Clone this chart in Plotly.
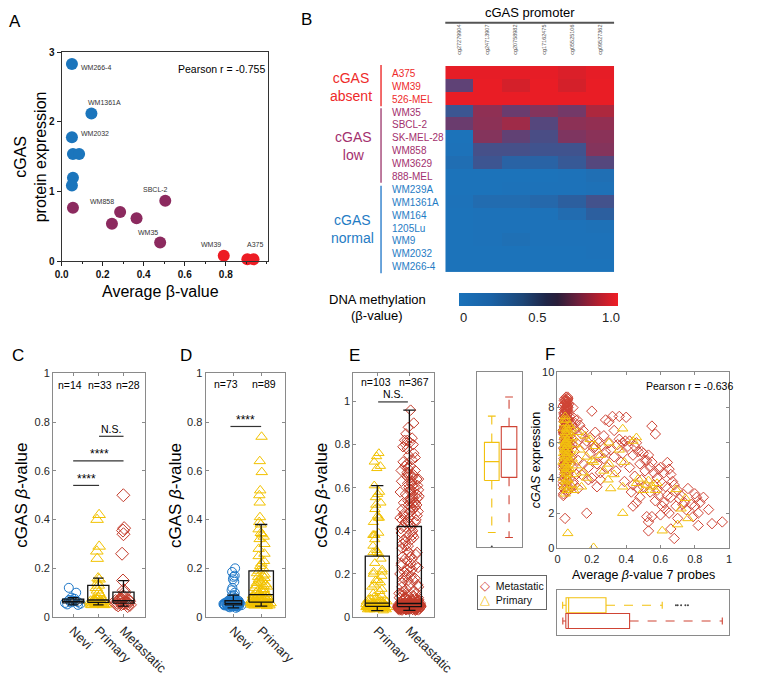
import numpy as np
import plotly.graph_objects as go

W, H = 757, 683
FONT = "Liberation Sans, Arial, sans-serif"

# ---------------- DATA ----------------
# Panel A: cell lines
a_label = ["WM266-4", "WM1361A", "WM2032", "", "", "", "", "", "SBCL-2", "WM858", "", "", "WM35", "WM39", "A375", ""]
a_group = ["normal", "normal", "normal", "normal", "normal", "normal", "normal",
           "low", "low", "low", "low", "low", "low", "absent", "absent", "absent"]
a_beta = [0.050, 0.145, 0.050, 0.055, 0.085, 0.055, 0.050,
          0.055, 0.505, 0.285, 0.245, 0.365, 0.480, 0.790, 0.905, 0.935]
a_cgas = [2.83, 2.12, 1.78, 1.54, 1.54, 1.20, 1.09,
          0.77, 0.87, 0.71, 0.54, 0.62, 0.27, 0.08, 0.03, 0.03]

# Panel B: heatmap
b_probes = ["cg27279904", "cg24713907", "cg20758982", "cg17162475", "cg05525106", "cg09527362"]
b_cells = ["A375", "WM39", "526-MEL", "WM35", "SBCL-2", "SK-MEL-28", "WM858", "WM3629", "888-MEL",
           "WM239A", "WM1361A", "WM164", "1205Lu", "WM9", "WM2032", "WM266-4"]
b_group = ["absent", "absent", "absent", "low", "low", "low", "low", "low", "low",
           "normal", "normal", "normal", "normal", "normal", "normal", "normal"]
b_beta = [
    [0.98, 0.98, 0.98, 0.98, 0.95, 0.98],
    [0.55, 0.99, 0.93, 0.99, 0.93, 0.99],
    [0.99, 0.99, 0.99, 0.99, 0.99, 0.99],
    [0.35, 0.73, 0.60, 0.69, 0.63, 0.82],
    [0.60, 0.72, 0.78, 0.50, 0.72, 0.74],
    [0.02, 0.69, 0.56, 0.45, 0.67, 0.71],
    [0.03, 0.42, 0.42, 0.38, 0.38, 0.69],
    [0.08, 0.36, 0.20, 0.20, 0.32, 0.50],
    [0.02, 0.02, 0.02, 0.02, 0.03, 0.07],
    [0.02, 0.02, 0.03, 0.03, 0.03, 0.04],
    [0.03, 0.10, 0.10, 0.15, 0.25, 0.40],
    [0.02, 0.03, 0.03, 0.03, 0.10, 0.25],
    [0.02, 0.03, 0.03, 0.03, 0.03, 0.04],
    [0.02, 0.03, 0.06, 0.03, 0.03, 0.03],
    [0.02, 0.02, 0.02, 0.02, 0.02, 0.03],
    [0.02, 0.02, 0.02, 0.02, 0.02, 0.02],
]

# Panel C
c_cats = ["Nevi", "Primary", "Metastatic"]
c_n = ["n=14", "n=33", "n=28"]
c_nevi = [0.050, 0.052, 0.055, 0.058, 0.060, 0.062, 0.064, 0.066, 0.068, 0.070, 0.075, 0.080, 0.100, 0.120]
c_primary = [0.42, 0.40, 0.29, 0.27, 0.24, 0.16, 0.155, 0.14, 0.13, 0.12, 0.11, 0.10,
             0.050, 0.050, 0.052, 0.053, 0.055, 0.055, 0.056, 0.058, 0.060, 0.060, 0.062,
             0.063, 0.064, 0.065, 0.066, 0.068, 0.070, 0.072, 0.075, 0.080, 0.090]
c_metastatic = [0.50, 0.365, 0.355, 0.34, 0.26, 0.15, 0.11, 0.10,
                0.045, 0.048, 0.050, 0.052, 0.053, 0.055, 0.056, 0.058, 0.060, 0.060,
                0.062, 0.064, 0.065, 0.066, 0.068, 0.070, 0.072, 0.075, 0.080, 0.085]

# Panel D
d_cats = ["Nevi", "Primary"]
d_n = ["n=73", "n=89"]
d_nevi = [0.200, 0.185, 0.170, 0.165, 0.155, 0.145, 0.120, 0.110, 0.100, 0.090, 0.088,
          0.038, 0.040, 0.042, 0.043, 0.044, 0.045, 0.045, 0.046, 0.046, 0.047, 0.047, 0.048,
          0.048, 0.048, 0.049, 0.049, 0.050, 0.050, 0.050, 0.050, 0.051, 0.051, 0.051, 0.052,
          0.052, 0.052, 0.053, 0.053, 0.053, 0.054, 0.054, 0.054, 0.055, 0.055, 0.055, 0.056,
          0.056, 0.056, 0.057, 0.057, 0.058, 0.058, 0.059, 0.059, 0.060, 0.060, 0.061, 0.061,
          0.062, 0.062, 0.063, 0.064, 0.065, 0.066, 0.067, 0.068, 0.070, 0.071, 0.072, 0.074,
          0.076, 0.078]
d_primary = [0.74, 0.64, 0.595, 0.52, 0.50, 0.47, 0.41, 0.39, 0.38, 0.36,
             0.345, 0.34, 0.33, 0.32, 0.30, 0.28, 0.26, 0.25, 0.23, 0.22, 0.21, 0.20, 0.19, 0.18,
             0.045, 0.047, 0.048, 0.050, 0.050, 0.051, 0.052, 0.052, 0.053, 0.054, 0.054, 0.055,
             0.055, 0.056, 0.056, 0.057, 0.057, 0.058, 0.058, 0.059, 0.059, 0.060,
             0.061, 0.062, 0.063, 0.064, 0.065, 0.066, 0.067, 0.068, 0.069, 0.070, 0.072, 0.073,
             0.075, 0.076, 0.078, 0.080, 0.082, 0.083, 0.085, 0.087, 0.088, 0.090,
             0.092, 0.095, 0.098, 0.100, 0.104, 0.108, 0.110, 0.115, 0.120, 0.125, 0.128, 0.130,
             0.135, 0.140, 0.145, 0.150, 0.155, 0.160, 0.165, 0.170, 0.175]

# Panels E/F: primary tumours (beta value of 7 probes, cGAS expression)
e_cats = ["Primary", "Metastatic"]
e_n = ["n=103", "n=367"]
prim_beta = [0.76, 0.745, 0.72, 0.70, 0.69, 0.61, 0.58, 0.57, 0.555, 0.53, 0.52, 0.50, 0.47,
             0.46, 0.46, 0.44, 0.39, 0.38, 0.38, 0.38, 0.36, 0.33, 0.31, 0.30, 0.30, 0.295,
             0.27, 0.25, 0.22, 0.21, 0.21, 0.20, 0.19, 0.17, 0.17, 0.16, 0.15, 0.14, 0.13, 0.12,
             0.11, 0.10, 0.095, 0.09, 0.09, 0.085, 0.08, 0.08, 0.075, 0.072, 0.071,
             0.06, 0.045, 0.05, 0.04, 0.055, 0.035, 0.06, 0.045, 0.05, 0.04,
             0.065, 0.055, 0.035, 0.045, 0.05, 0.06, 0.04, 0.055, 0.045, 0.05,
             0.035, 0.06, 0.045, 0.05, 0.04, 0.065, 0.055, 0.045, 0.05, 0.04,
             0.06, 0.045, 0.05, 0.055, 0.035, 0.06, 0.045, 0.05, 0.04, 0.065,
             0.055, 0.045, 0.05, 0.04, 0.06, 0.03, 0.05, 0.06, 0.04, 0.055, 0.045, 0.05]
prim_expr = [1.7, 2.85, 2.25, 1.35, 3.35, 1.0, 3.7, 3.3, 3.5, 3.85, 3.6, 3.3, 3.95,
             3.7, 6.3, 6.1, 4.9, 6.8, 3.5, 2.0, 5.6, 4.2, 3.4, 4.8, 6.0, 3.9,
             4.4, 5.3, 5.8, 4.9, 0.05, 5.0, 6.2, 4.0, 5.2, 6.4, 4.3, 3.5, 5.6, 6.6,
             4.7, 5.9, 3.3, 6.3, 4.2, 5.1, 6.8, 3.6, 5.5, 4.5, 7.0,
             0.85, 7.5, 7.3, 7.1, 6.9, 6.8, 6.7, 6.6, 6.5, 6.4,
             6.3, 6.2, 6.1, 6.0, 6.0, 5.9, 5.8, 5.7, 5.6, 5.5,
             5.4, 5.4, 5.3, 5.2, 5.1, 5.0, 4.9, 4.8, 4.7, 4.6,
             4.5, 4.4, 4.3, 4.2, 4.0, 3.9, 3.8, 3.6, 3.5, 3.4,
             3.3, 3.1, 6.1, 5.6, 5.2, 4.9, 4.5, 6.5, 7.3, 3.9, 5.9, 6.8]

# Metastatic tumours: low-methylation cluster
met_cluster_beta = [
    0.045, 0.052, 0.038, 0.058, 0.049, 0.041, 0.055, 0.047, 0.060, 0.036, 0.051, 0.044, 0.057, 0.040, 0.053,
    0.048, 0.033, 0.056, 0.042, 0.059, 0.046, 0.050, 0.039, 0.054, 0.043, 0.058, 0.035, 0.052, 0.047, 0.060,
    0.041, 0.055, 0.049, 0.037, 0.057, 0.044, 0.051, 0.046, 0.059, 0.032, 0.053, 0.048, 0.040, 0.056, 0.045,
    0.050, 0.038, 0.058, 0.043, 0.054, 0.047, 0.036, 0.060, 0.049, 0.042, 0.055, 0.045, 0.052, 0.039, 0.057,
    0.046, 0.053, 0.034, 0.059, 0.048, 0.041, 0.056, 0.044, 0.050, 0.037, 0.058, 0.047, 0.054, 0.043, 0.051,
    0.040, 0.057, 0.049, 0.035, 0.060, 0.045, 0.052, 0.042, 0.055, 0.048, 0.038, 0.059, 0.046, 0.053, 0.031,
    0.056, 0.044, 0.050, 0.041, 0.058, 0.047, 0.054, 0.039, 0.057, 0.045, 0.051, 0.036, 0.060, 0.048, 0.043,
    0.055, 0.049, 0.040, 0.058, 0.046, 0.053, 0.034, 0.056, 0.044, 0.059, 0.047, 0.050, 0.042, 0.057, 0.038,
    0.052, 0.045, 0.060, 0.048, 0.041, 0.055, 0.050, 0.037, 0.058, 0.043, 0.054, 0.046, 0.033, 0.059, 0.049,
    0.044, 0.056, 0.040, 0.053, 0.047, 0.058, 0.035, 0.051, 0.045, 0.060, 0.042, 0.055, 0.048, 0.039, 0.057]
met_cluster_expr = [
    7.2, 6.4, 5.1, 8.3, 6.9, 4.2, 7.6, 5.8, 8.5, 3.4, 6.7, 7.9, 5.5, 4.8, 7.1,
    6.2, 3.8, 8.1, 6.6, 7.4, 5.3, 8.6, 4.5, 6.0, 7.7, 5.0, 3.1, 6.8, 7.3, 8.0,
    5.6, 7.0, 6.3, 4.0, 8.4, 6.5, 5.9, 7.5, 6.1, 3.6, 7.8, 4.4, 6.9, 8.2, 5.2,
    7.1, 4.7, 6.4, 7.9, 3.3, 6.0, 5.7, 8.5, 6.7, 7.2, 4.9, 8.0, 5.4, 6.2, 7.6,
    6.8, 3.9, 7.4, 5.1, 8.3, 6.5, 7.0, 4.3, 6.1, 7.7, 5.8, 8.4, 3.5, 6.6, 7.3,
    5.0, 7.9, 6.3, 4.6, 8.1, 6.9, 5.5, 7.5, 3.2, 6.0, 7.2, 8.6, 5.9, 4.1, 6.7,
    7.8, 5.3, 6.4, 8.2, 7.0, 4.8, 6.2, 7.6, 5.6, 3.7, 8.0, 6.5, 7.3, 5.2, 6.9,
    4.4, 7.1, 8.4, 6.0, 5.7, 7.4, 3.0, 6.8, 7.9, 5.1, 6.3, 8.3, 4.7, 7.0, 6.6,
    5.9, 7.7, 4.2, 6.1, 8.5, 5.4, 7.2, 6.7, 3.8, 7.5, 6.4, 5.0, 8.1, 6.9, 7.8,
    1.7, 6.2, 7.3, 5.6, 4.5, 8.0, 6.6, 7.1, 5.3, 6.8, 4.0, 7.6, 5.8, 8.2, 6.3]
# Metastatic: intermediate methylation
met_mid_beta = [0.062, 0.065, 0.07, 0.068, 0.072, 0.075, 0.078, 0.08, 0.082, 0.085, 0.088, 0.09, 0.092,
                0.095, 0.098, 0.10, 0.10, 0.105, 0.11, 0.11, 0.115, 0.12, 0.12, 0.065, 0.07, 0.075,
                0.08, 0.085, 0.09, 0.063,
                0.13, 0.14, 0.15, 0.15, 0.16, 0.17, 0.17, 0.18, 0.19, 0.19, 0.20, 0.20, 0.21, 0.22,
                0.22, 0.23, 0.24, 0.24, 0.25, 0.26, 0.27, 0.27, 0.28, 0.28, 0.29, 0.30, 0.30, 0.31,
                0.32, 0.33, 0.33, 0.34, 0.35, 0.36, 0.36, 0.37, 0.38, 0.38, 0.39, 0.40, 0.395, 0.25,
                0.23, 0.18, 0.14]
met_mid_expr = [7.8, 8.2, 7.5, 6.9, 6.4, 5.8, 7.2, 6.6, 5.2, 7.0, 4.6, 6.2, 3.8,
                7.4, 5.5, 6.8, 3.6, 7.1, 4.2, 6.0, 7.3, 5.0, 3.4, 3.3, 4.0, 4.8,
                3.5, 5.9, 8.0, 5.3,
                7.0, 6.5, 6.7, 4.8, 5.9, 2.0, 6.1, 4.6, 6.3, 5.4, 7.8, 4.0, 5.7, 5.8,
                6.6, 4.8, 5.2, 6.0, 4.3, 5.8, 5.1, 6.4, 7.3, 5.5, 4.6, 7.2, 6.0, 5.6,
                7.5, 5.2, 6.7, 4.4, 5.9, 7.5, 6.2, 4.9, 6.0, 5.4, 3.8, 7.45, 6.1, 3.9,
                3.5, 3.9, 4.2]
# Metastatic: high methylation
met_high_beta = [0.41, 0.42, 0.42, 0.43, 0.44, 0.44, 0.45, 0.45, 0.46, 0.46, 0.47, 0.47, 0.48, 0.48,
                 0.49, 0.49, 0.50, 0.50, 0.51, 0.51, 0.52, 0.52, 0.53, 0.53, 0.53, 0.54, 0.54, 0.55,
                 0.55, 0.55, 0.56, 0.56, 0.57, 0.57, 0.58, 0.58, 0.59, 0.59, 0.60, 0.60, 0.61, 0.61,
                 0.62, 0.62, 0.63, 0.63, 0.64, 0.64, 0.65, 0.65, 0.66, 0.66, 0.66, 0.67, 0.68, 0.68,
                 0.69, 0.70, 0.70, 0.71, 0.72, 0.73, 0.74, 0.75, 0.76, 0.78, 0.79, 0.80, 0.80, 0.81,
                 0.82, 0.82, 0.83, 0.85, 0.88, 0.90, 0.96, 0.44]
met_high_expr = [5.8, 6.1, 4.6, 3.2, 3.6, 5.3, 5.8, 4.1, 6.0, 2.6, 5.5, 3.4, 2.9, 4.8,
                 5.5, 3.9, 5.4, 3.5, 5.0, 4.4, 5.0, 1.8, 5.3, 0.99, 1.5, 3.2, 4.6, 4.9,
                 6.95, 1.8, 4.3, 3.6, 6.5, 2.7, 4.0, 3.3, 3.0, 4.5, 4.6, 1.9, 3.7, 2.4,
                 4.3, 2.6, 2.2, 3.5, 4.88, 3.0, 4.5, 2.0, 4.2, 1.1, 2.9, 3.8, 3.6, 0.56,
                 2.4, 3.3, 1.7, 2.8, 3.0, 2.5, 2.6, 2.2, 3.4, 2.5, 1.8, 3.1, 2.4, 2.9,
                 2.0, 1.3, 2.6, 2.9, 2.2, 1.4, 1.5, 2.4]

met_beta = met_cluster_beta + met_mid_beta + met_high_beta
met_expr = met_cluster_expr + met_mid_expr + met_high_expr

# ---------------- HELPERS ----------------
def px(x):
    return x / W


def py(y):
    return 1 - y / H


def dom_x(a, b):
    return [a / W, b / W]


def dom_y(top, bottom):
    return [1 - bottom / H, 1 - top / H]


annotations = []
shapes = []


def ann(x, y, text, size=11, color="#000", xanchor="center", yanchor="middle", angle=0, **kw):
    annotations.append(dict(x=px(x), y=py(y), xref="paper", yref="paper", text=text, showarrow=False,
                            font=dict(size=size, color=color, family=FONT), xanchor=xanchor,
                            yanchor=yanchor, textangle=angle, **kw))


def pline(x0, y0, x1, y1, color="#333", width=1.2):
    shapes.append(dict(type="line", xref="paper", yref="paper", x0=px(x0), y0=py(y0), x1=px(x1), y1=py(y1),
                       line=dict(color=color, width=width)))


def box_stats(vals):
    v = np.asarray(vals, dtype=float)
    q1, med, q3 = np.percentile(v, [25, 50, 75])
    iqr = q3 - q1
    inside = v[(v >= q1 - 1.5 * iqr) & (v <= q3 + 1.5 * iqr)]
    lo, hi = inside.min(), inside.max()
    out = v[(v < lo) | (v > hi)]
    return q1, med, q3, lo, hi, out


def box_geom(vals, pos, w, capw):
    q1, med, q3, lo, hi, out = box_stats(vals)
    a, b = pos - w / 2, pos + w / 2
    c, d = pos - capw / 2, pos + capw / 2
    rect = ([a, b, b, a, a, None, a, b], [q1, q1, q3, q3, q1, None, med, med])
    whisk = ([pos, pos, None, pos, pos], [q3, hi, None, q1, lo])
    caps = ([c, d, None, c, d], [hi, hi, None, lo, lo])
    return rect, whisk, caps, out


fig = go.Figure()

# ---------------- PANEL A ----------------
a_colors = {"normal": "#1b75bc", "low": "#8c2a5f", "absent": "#ed1c24"}
for grp in ["normal", "low", "absent"]:
    idx = [i for i, g in enumerate(a_group) if g == grp]
    fig.add_trace(go.Scatter(x=[a_beta[i] for i in idx], y=[a_cgas[i] for i in idx], mode="markers",
                             marker=dict(size=12, color=a_colors[grp]), cliponaxis=False,
                             xaxis="x", yaxis="y", showlegend=False, hoverinfo="skip"))
a_label_style = {"WM266-4": ("left", 7, -3), "WM1361A": ("center", 13, 11), "WM2032": ("left", 7, 4),
                 "SBCL-2": ("center", -10, 11), "WM858": ("center", -18, 10), "WM35": ("center", -12, 10),
                 "WM39": ("center", -13, 11), "A375": ("left", -2, 15)}
for i, lab in enumerate(a_label):
    if lab:
        xa, xs, ys = a_label_style[lab]
        annotations.append(dict(x=a_beta[i], y=a_cgas[i], xref="x", yref="y", text=lab, showarrow=False,
                                xanchor=xa, yanchor="middle", xshift=xs, yshift=ys,
                                font=dict(size=7, color="#333", family=FONT)))
ann(176, 64, "Pearson r = -0.755", size=10.5, xanchor="left")
ann(25, 153, "cGAS<br>protein expression", size=16, angle=-90)
ann(160, 291, "Average β-value", size=16)

# ---------------- PANEL B ----------------
cell_scale = [[0.0, "#1b75bc"], [0.25, "#2c5f9f"], [0.45, "#4a4d85"], [0.6, "#6a3c6e"],
              [0.75, "#952e50"], [0.88, "#c2232f"], [1.0, "#ed1c24"]]
cbar_scale = [[0.0, "#1a72ba"], [0.2, "#1a62a6"], [0.4, "#1d4677"], [0.55, "#1f2547"], [0.62, "#2a1e3a"],
              [0.75, "#6e1f3c"], [0.88, "#b51e2e"], [1.0, "#f01d25"]]
fig.add_trace(go.Heatmap(z=b_beta, x=list(range(len(b_probes))), y=list(range(len(b_cells))),
                         colorscale=cell_scale, zmin=0, zmax=1, showscale=False,
                         xaxis="x2", yaxis="y2", hoverinfo="skip"))
fig.add_trace(go.Scatter(x=[None], y=[None], mode="markers", xaxis="x2", yaxis="y2", showlegend=False,
                         marker=dict(color=[0.5], cmin=-0.03, cmax=1.05, colorscale=cbar_scale, showscale=True,
                                     colorbar=dict(orientation="h", x=px(554.5), xanchor="center",
                                                   y=py(292), yanchor="top", len=159, lenmode="pixels",
                                                   thickness=13, thicknessmode="pixels", xpad=0, ypad=0,
                                                   outlinewidth=0, tickvals=[0, 0.5, 1],
                                                   ticktext=["0", "0.5", "1.0"], ticks="",
                                                   tickfont=dict(size=13, color="#222", family=FONT)))))
grp_colors = {"absent": "#ee2a2a", "low": "#a3306e", "normal": "#1f7cc4"}
for i, (cell, g) in enumerate(zip(b_cells, b_group)):
    annotations.append(dict(x=px(399), y=i, xref="paper", yref="y2", text=cell, showarrow=False,
                            xanchor="left", yanchor="middle", yshift=-1,
                            font=dict(size=10, color=grp_colors[g], family=FONT)))
ann(359, 82, "cGAS<br>absent", size=14, color=grp_colors["absent"])
ann(361, 143, "cGAS<br>low", size=14, color=grp_colors["low"])
ann(360, 227, "cGAS<br>normal", size=14, color=grp_colors["normal"])
pline(390, 60, 390, 102, color="#ee3a3a", width=1.5)
pline(390, 104, 390, 180, color="#a8507e", width=1.5)
pline(390, 183, 390, 272, color="#3b87cf", width=1.5)
ann(545, 7, "cGAS promoter", size=13)
pline(457, 17, 633, 17, color="#555", width=2)
ann(386, 299, "DNA methylation", size=13)
ann(386, 315, "(β-value)", size=13)

# ---------------- PANELS C, D, E (box + points) ----------------
BLUE, YEL, RED = "#1f78c8", "#f2c200", "#c33b2a"


def points(vals, pos, xa, ya, symbol, color, size, width, jitter=0.9):
    fig.add_trace(go.Box(y=vals, x0=pos, width=width, boxpoints="all", jitter=jitter, pointpos=0,
                         marker=dict(symbol=symbol, color=color, size=size, line=dict(color=color, width=1)),
                         line=dict(width=0, color="rgba(0,0,0,0)"), fillcolor="rgba(0,0,0,0)",
                         xaxis=xa, yaxis=ya, showlegend=False, hoverinfo="skip"))


def black_box(vals, pos, xa, ya, w, capw):
    rect, whisk, caps, _ = box_geom(vals, pos, w, capw)
    xs = rect[0] + [None] + whisk[0] + [None] + caps[0]
    ys = rect[1] + [None] + whisk[1] + [None] + caps[1]
    fig.add_trace(go.Scatter(x=xs, y=ys, mode="lines", line=dict(color="#111", width=1.3),
                             xaxis=xa, yaxis=ya, showlegend=False, hoverinfo="skip"))


# C
points(c_nevi, 1, "x3", "y3", "circle-open", BLUE, 9, 0.85)
points(c_primary, 2, "x3", "y3", "triangle-up-open", YEL, 11, 0.85)
points(c_metastatic, 3, "x3", "y3", "diamond-open", RED, 10, 0.85)
black_box(c_nevi, 1, "x3", "y3", 0.84, 0.42)
black_box(c_primary, 2, "x3", "y3", 0.84, 0.42)
black_box(c_metastatic, 3, "x3", "y3", 0.84, 0.42)
# D
points(d_nevi, 1, "x4", "y4", "circle-open", BLUE, 9, 0.85)
points(d_primary, 2, "x4", "y4", "triangle-up-open", YEL, 10, 0.85)
black_box(d_nevi, 1, "x4", "y4", 0.6, 0.42)
black_box(d_primary, 2, "x4", "y4", 0.88, 0.44)
# E
points(prim_beta, 1, "x5", "y5", "triangle-up-open", YEL, 9, 0.8)
points(met_beta, 2, "x5", "y5", "diamond-open", RED, 8, 0.8)
black_box(prim_beta, 1, "x5", "y5", 0.75, 0.38)
black_box(met_beta, 2, "x5", "y5", 0.75, 0.38)

# texts for C/D/E
for x, t in zip([66, 97, 126], c_n):
    ann(x, 386, t, size=10.5)
for x, t in zip([228, 268], d_n):
    ann(x, 385, t, size=10.5)
for x, t in zip([385, 424], e_n):
    ann(x, 383, t, size=10.5)
pline(69, 488, 96, 488)
ann(82.5, 481, "****", size=12)
pline(69, 463, 121.5, 463)
ann(96, 456, "****", size=12)
pline(96, 438, 121.5, 438)
ann(108.5, 431, "N.S.", size=10.5)
pline(233, 428, 265, 428)
ann(249, 421, "****", size=12)
pline(387, 403, 418, 403)
ann(402.5, 395, "N.S.", size=10.5)
ann(15, 498, "cGAS <i>β</i>-value", size=17, angle=-90)
ann(175, 498, "cGAS <i>β</i>-value", size=17, angle=-90)
ann(328, 498, "cGAS <i>β</i>-value", size=17, angle=-90)

# ---------------- PANEL F ----------------
FRED, FYEL = "#cf4435", "#f2c10f"
fig.add_trace(go.Scatter(x=met_beta, y=met_expr, mode="markers", name="Metastatic",
                         marker=dict(symbol="diamond-open", size=8, color=FRED, line=dict(color=FRED, width=1)),
                         xaxis="x6", yaxis="y6", hoverinfo="skip", showlegend=False))
fig.add_trace(go.Scatter(x=prim_beta, y=prim_expr, mode="markers", name="Primary",
                         marker=dict(symbol="triangle-up-open", size=9, color=FYEL, line=dict(color=FYEL, width=1)),
                         xaxis="x6", yaxis="y6", hoverinfo="skip", showlegend=False))


def color_box(vals, pos, color, xa, ya, w, capw, horizontal):
    rect, whisk, caps, out = box_geom(vals, pos, w, capw)

    def xy(p):
        return (p[1], p[0]) if horizontal else (p[0], p[1])

    for part, dash in ((rect, "solid"), (whisk, "dash"), (caps, "solid")):
        xs, ys = xy(part)
        fig.add_trace(go.Scatter(x=xs, y=ys, mode="lines", line=dict(color=color, width=1.1, dash=dash),
                                 xaxis=xa, yaxis=ya, showlegend=False, hoverinfo="skip"))
    if len(out):
        pos_list = [pos] * len(out)
        xs, ys = (list(out), pos_list) if horizontal else (pos_list, list(out))
        fig.add_trace(go.Scatter(x=xs, y=ys, mode="markers", marker=dict(size=2, color="#444"),
                                 xaxis=xa, yaxis=ya, showlegend=False, hoverinfo="skip"))


color_box(prim_expr, 1, FYEL, "x7", "y7", 0.85, 0.45, False)
color_box(met_expr, 2, FRED, "x7", "y7", 0.9, 0.45, False)
color_box(prim_beta, 2, FYEL, "x8", "y8", 0.95, 0.45, True)
color_box(met_beta, 1, FRED, "x8", "y8", 0.95, 0.45, True)

ann(664, 387, "Pearson r = -0.636", size=10.5, xanchor="left")
ann(551, 462, "<i>cGAS</i> expression", size=12.5, angle=-90)
ann(664, 579, "Average <i>β</i>-value 7 probes", size=12.5)
# legend box
legend_text = (f"<span style='color:{FRED};font-size:13px'>◇</span>  Metastatic<br>"
               f"<span style='color:{FYEL};font-size:13px'>△</span>  Primary")
annotations.append(dict(x=px(490), y=py(579), xref="paper", yref="paper", text=legend_text, showarrow=False,
                        xanchor="left", yanchor="top", align="left", bordercolor="#666", borderwidth=1,
                        borderpad=2, bgcolor="white", font=dict(size=10.5, color="#111", family=FONT)))

# panel letters
for x, y, t in [(8, 16, "A"), (312, 14, "B"), (11, 356, "C"), (187, 356, "D"), (362, 356, "E"), (566, 355, "F")]:
    ann(x, y, t, size=17)

# ---------------- AXES ----------------
A_ax = dict(showline=True, linecolor="#333", linewidth=1, mirror=True, ticks="outside", ticklen=4,
            tickcolor="#222", tickfont=dict(size=10, color="#111", family=FONT, weight="bold"),
            zeroline=False, showgrid=False)
M_ax = dict(showline=True, linecolor="#8a8a8a", linewidth=1, mirror="ticks", ticks="inside", ticklen=3,
            tickcolor="#8a8a8a", tickfont=dict(size=11, color="#262626", family=FONT),
            zeroline=False, showgrid=False)
Cat_font = dict(size=13, color="#262626", family=FONT)
Hide = dict(showline=True, linecolor="#8a8a8a", linewidth=1, mirror=True, ticks="", showticklabels=False,
            zeroline=False, showgrid=False)

fig.update_layout(
    width=W, height=H, margin=dict(l=0, r=0, t=0, b=0), paper_bgcolor="white", plot_bgcolor="white",
    font=dict(family=FONT, color="#111"), showlegend=False,
    xaxis=dict(A_ax, domain=dom_x(57, 272), range=[0, 1.005], tickvals=[0, 0.2, 0.4, 0.6, 0.8],
               ticktext=["0.0", "0.2", "0.4", "0.6", "0.8"], minor=dict(dtick=0.1, ticks="outside", ticklen=2,
                                                                         tickcolor="#222"), anchor="y"),
    yaxis=dict(A_ax, domain=dom_y(47, 260), range=[0, 3], dtick=1, anchor="x"),
    xaxis2=dict(domain=dom_x(457, 633), range=[-0.5, 5.5], side="top", tickvals=list(range(6)),
                ticktext=b_probes, tickangle=-90, tickfont=dict(size=5.5, color="#555", family=FONT),
                ticks="outside", ticklen=9, tickcolor="rgba(0,0,0,0)", showline=False, showgrid=False,
                zeroline=False, anchor="y2"),
    yaxis2=dict(domain=dom_y(61, 271), range=[15.5, -0.5], showticklabels=False, ticks="", showline=False,
                showgrid=False, zeroline=False, anchor="x2"),
    xaxis3=dict(M_ax, domain=dom_x(48, 144), range=[0.2, 3.86], tickvals=[1, 2, 3], ticktext=c_cats,
                tickangle=45, tickfont=Cat_font, anchor="y3"),
    yaxis3=dict(M_ax, domain=dom_y(374, 622), range=[0, 1], dtick=0.2, anchor="x3"),
    xaxis4=dict(M_ax, domain=dom_x(207, 290), range=[0, 2.86], tickvals=[1, 2], ticktext=d_cats,
                tickangle=45, tickfont=Cat_font, anchor="y4"),
    yaxis4=dict(M_ax, domain=dom_y(374, 622), range=[0, 1], dtick=0.2, anchor="x4"),
    xaxis5=dict(M_ax, domain=dom_x(361, 445), range=[0.25, 2.76], tickvals=[1, 2], ticktext=e_cats,
                tickangle=45, tickfont=Cat_font, anchor="y5"),
    yaxis5=dict(M_ax, domain=dom_y(374, 622), range=[0, 1.13], dtick=0.2, anchor="x5"),
    xaxis6=dict(M_ax, domain=dom_x(574, 753), range=[0, 1], dtick=0.2, anchor="y6"),
    yaxis6=dict(M_ax, domain=dom_y(373, 552), range=[0, 10], dtick=2, anchor="x6"),
    xaxis7=dict(Hide, domain=dom_x(490, 537), range=[0.14, 2.75], anchor="y7"),
    yaxis7=dict(Hide, domain=dom_y(373, 551), range=[0, 10], anchor="x7"),
    xaxis8=dict(Hide, domain=dom_x(574, 753), range=[0, 1], anchor="y8"),
    yaxis8=dict(Hide, domain=dom_y(594, 640), range=[0.126, 3.0], anchor="x8"),
    annotations=annotations, shapes=shapes,
)

fig.write_html("out.html", config={"displayModeBar": False},
               post_script="document.body.style.margin='0px';")
